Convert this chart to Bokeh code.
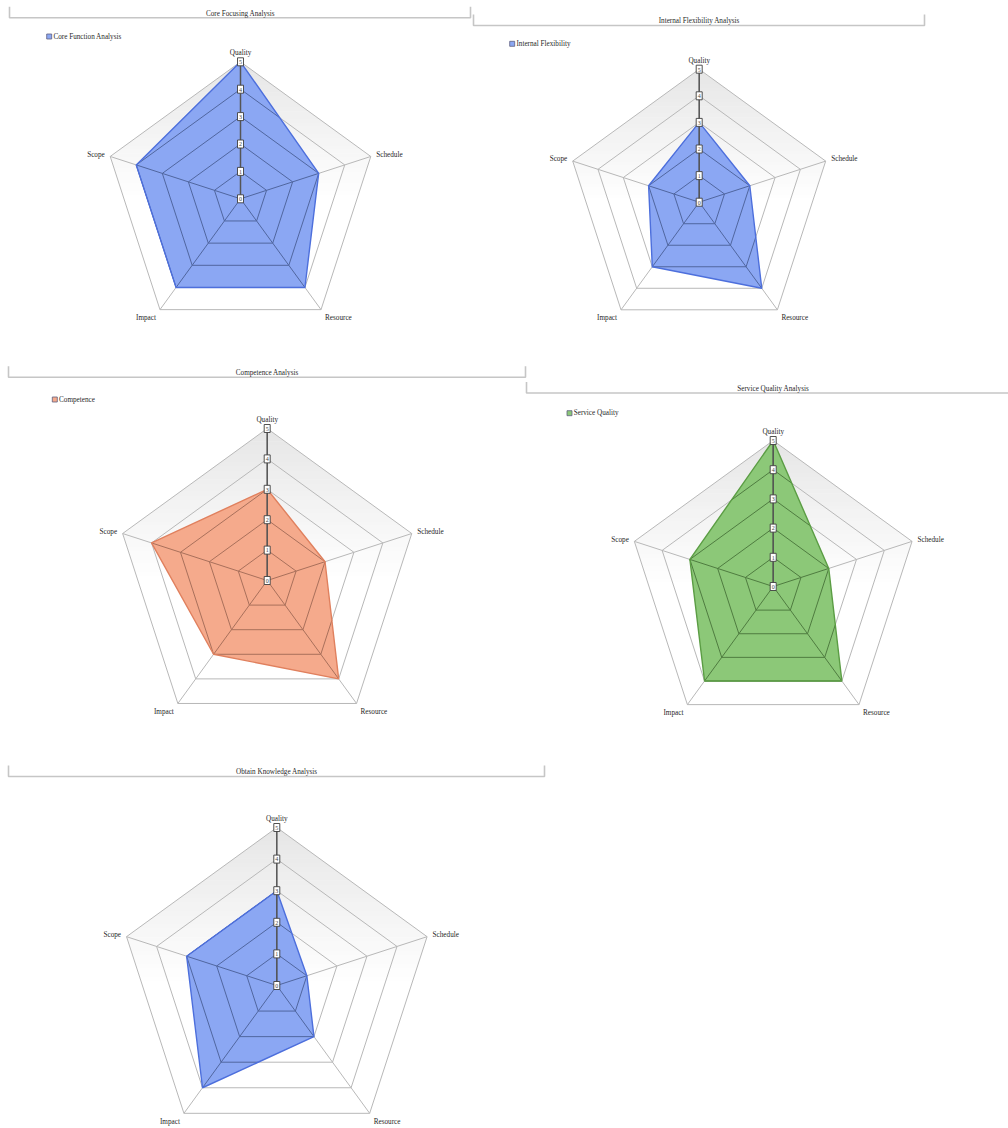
import math

from bokeh.core.properties import value
from bokeh.embed import file_html
from bokeh.models import Range1d
from bokeh.plotting import figure
from bokeh.resources import INLINE

# ---------------------------------------------------------------- data
categories = ["Quality", "Schedule", "Resource", "Impact", "Scope"]
tick_values = [0, 1, 2, 3, 4, 5]
tick_labels = ["0", "1", "2", "3", "4", "5"]
scale_max = 5

core_function = [5, 3, 4, 4, 4]
internal_flexibility = [3, 2, 4, 3, 2]
competence = [3, 2, 4, 3, 4]
service_quality = [5, 2, 4, 4, 3]
obtain_knowledge = [3, 1, 2, 4, 3]

chart_titles = [
    "Core Focusing Analysis",
    "Internal Flexibility Analysis",
    "Competence Analysis",
    "Service Quality Analysis",
    "Obtain Knowledge Analysis",
]
series_names = ["Core Function Analysis", "Internal Flexibility", "Competence",
                "Service Quality", None]
series_values = [core_function, internal_flexibility, competence,
                 service_quality, obtain_knowledge]

# ---------------------------------------------------------------- styles
BLUE = dict(fill="#8ba7f3", edge="#4d6fdc", inner="#50669f")
ORANGE = dict(fill="#f5aa8c", edge="#e0805e", inner="#a9705b")
GREEN = dict(fill="#8cc878", edge="#5b9d44", inner="#4f7c40")
palettes = [BLUE, BLUE, ORANGE, GREEN, BLUE]

# panel geometry in page pixels (y grows downward)
panels = [
    dict(cx=240.0, cy=198.3, r=137, fx0=9, fx1=470, fy=17.3, leg=(48.7, 36.0)),
    dict(cx=698.7, cy=201.7, r=133, fx0=473, fx1=924, fy=25.0, leg=(511.7, 43.3)),
    dict(cx=266.7, cy=580.0, r=152, fx0=8, fx1=525, fy=376.7, leg=(54.3, 399.0)),
    dict(cx=772.7, cy=586.0, r=146, fx0=526, fx1=1019, fy=392.5, leg=(569.0, 412.7)),
    dict(cx=276.3, cy=985.0, r=158, fx0=8, fx1=544, fy=776.0, leg=None),
]

FONT = value("Liberation Serif")
TEXT_SIZE = value("7.2px")
W, H = 1008, 1128

p = figure(width=W, height=H, x_range=Range1d(0, W), y_range=Range1d(H, 0),
           output_backend="svg", toolbar_location=None, min_border=0,
           x_axis_type=None, y_axis_type=None, outline_line_color=None,
           background_fill_color="white", border_fill_color="white")
p.grid.visible = False

n_axes = len(categories)
angles = [math.pi / 2 - 2 * math.pi * k / n_axes for k in range(n_axes)]


def point(pn, k, v):
    s = pn["r"] / scale_max
    return (pn["cx"] + v * s * math.cos(angles[k]),
            pn["cy"] - v * s * math.sin(angles[k]))


def clip_y(poly, yb, keep_greater):
    out = []
    for k in range(len(poly)):
        a, b = poly[k], poly[(k + 1) % len(poly)]
        ina = a[1] >= yb if keep_greater else a[1] <= yb
        inb = b[1] >= yb if keep_greater else b[1] <= yb
        if ina:
            out.append(a)
        if ina != inb:
            t = (yb - a[1]) / (b[1] - a[1])
            out.append((a[0] + t * (b[0] - a[0]), yb))
    return out


def cross(o, a, b):
    return (a[0] - o[0]) * (b[1] - o[1]) - (a[1] - o[1]) * (b[0] - o[0])


def inner_part(c, pa, pb, qa, qb):
    """Part of segment qa-qb that lies on the centre side of edge pa-pb."""
    sc = cross(pa, pb, c)
    f0 = cross(pa, pb, qa) * (1 if sc > 0 else -1)
    f1 = cross(pa, pb, qb) * (1 if sc > 0 else -1)
    if f0 >= 0 and f1 >= 0:
        t0, t1 = 0.0, 1.0
    elif f0 < 0 and f1 < 0:
        return None
    else:
        tz = f0 / (f0 - f1)
        t0, t1 = (0.0, tz) if f0 >= 0 else (tz, 1.0)
    pt = lambda t: (qa[0] + t * (qb[0] - qa[0]), qa[1] + t * (qb[1] - qa[1]))
    return pt(t0), pt(t1)


for pn, title, name, vals, pal in zip(panels, chart_titles, series_names,
                                      series_values, palettes):
    cx, cy, R = pn["cx"], pn["cy"], pn["r"]
    outer = [point(pn, k, scale_max) for k in range(n_axes)]

    # soft grey shading that fades out toward the centre
    top, bottom = cy - R, cy
    n_strips = 36
    gx, gy, gc = [], [], []
    for i in range(n_strips):
        y0 = top + (bottom - top) * i / n_strips
        y1 = top + (bottom - top) * (i + 1) / n_strips + 0.6
        poly = clip_y(clip_y(outer, y0, True), y1, False)
        if len(poly) < 3:
            continue
        t = (i + 0.5) / n_strips
        g = int(round(229 + 26 * t ** 0.9))
        gx.append([q[0] for q in poly])
        gy.append([q[1] for q in poly])
        gc.append("#%02x%02x%02x" % (g, g, g))
    p.patches(gx, gy, fill_color=gc, line_color=None)

    # web grid
    ring_x, ring_y = [], []
    for lv in tick_values[1:]:
        pts = [point(pn, k, lv) for k in range(n_axes)]
        pts.append(pts[0])
        ring_x.append([q[0] for q in pts])
        ring_y.append([q[1] for q in pts])
    for k in range(n_axes):
        ring_x.append([cx, outer[k][0]])
        ring_y.append([cy, outer[k][1]])
    p.multi_line(ring_x, ring_y, line_color="#b8b8b8", line_width=1)

    # series area
    data_pts = [point(pn, k, vals[k]) for k in range(n_axes)]
    p.patch([q[0] for q in data_pts], [q[1] for q in data_pts],
            fill_color=pal["fill"], fill_alpha=1.0, line_color=None)

    # grid lines seen through the filled area
    sx, sy = [], []
    for k in range(n_axes):
        k2 = (k + 1) % n_axes
        pa, pb = data_pts[k], data_pts[k2]
        for lv in tick_values[1:]:
            seg = inner_part((cx, cy), pa, pb, point(pn, k, lv), point(pn, k2, lv))
            if seg:
                sx.append([seg[0][0], seg[1][0]])
                sy.append([seg[0][1], seg[1][1]])
        sx.append([cx, data_pts[k][0]])
        sy.append([cy, data_pts[k][1]])
    p.multi_line(sx, sy, line_color=pal["inner"], line_width=1)

    closed = data_pts + [data_pts[0]]
    p.line([q[0] for q in closed], [q[1] for q in closed],
           line_color=pal["edge"], line_width=1.4)

    # value axis along the first category
    p.segment(x0=[cx], y0=[cy], x1=[outer[0][0]], y1=[outer[0][1]],
              line_color="#555555", line_width=1.5)
    tick_pts = [point(pn, 0, v) for v in tick_values]
    p.rect(x=[q[0] for q in tick_pts], y=[q[1] for q in tick_pts],
           width=6, height=8, width_units="screen", height_units="screen",
           fill_color="white", line_color="#3e3e3e", line_width=0.9)
    p.text(x=[q[0] for q in tick_pts], y=[q[1] + 0.3 for q in tick_pts],
           text=tick_labels, text_font=FONT, text_font_size=value("6px"),
           text_align="center", text_baseline="middle", text_color="#444444")

    # category labels
    offsets = [(0, -8.5, "center"), (5.5, -1.8, "left"), (4.0, 8.7, "left"),
               (-4.0, 8.7, "right"), (-5.5, -1.8, "right")]
    for k in range(n_axes):
        dx, dy, al = offsets[k]
        p.text(x=[outer[k][0] + dx], y=[outer[k][1] + dy], text=[categories[k]],
               text_font=FONT, text_font_size=TEXT_SIZE, text_align=al,
               text_baseline="middle", text_color="#1f1f1f")

    # title bar
    fx0, fx1, fy = pn["fx0"], pn["fx1"], pn["fy"]
    p.multi_line([[fx0, fx0, fx1, fx1]], [[fy - 11, fy, fy, fy - 11]],
                 line_color="#c6c6c6", line_width=1.6)
    p.text(x=[cx], y=[fy - 4.2], text=[title], text_font=FONT,
           text_font_size=TEXT_SIZE, text_align="center",
           text_baseline="middle", text_color="#2a2a2a")

    # legend
    if name is not None:
        lx, ly = pn["leg"]
        p.rect(x=[lx], y=[ly], width=5, height=5, width_units="screen",
               height_units="screen", fill_color=pal["fill"],
               line_color="#5f5f7f", line_width=0.8)
        p.text(x=[lx + 4.2], y=[ly], text=[name], text_font=FONT,
               text_font_size=TEXT_SIZE, text_align="left",
               text_baseline="middle", text_color="#2a2a2a")

open("out.html", "w").write(file_html(p, INLINE))
